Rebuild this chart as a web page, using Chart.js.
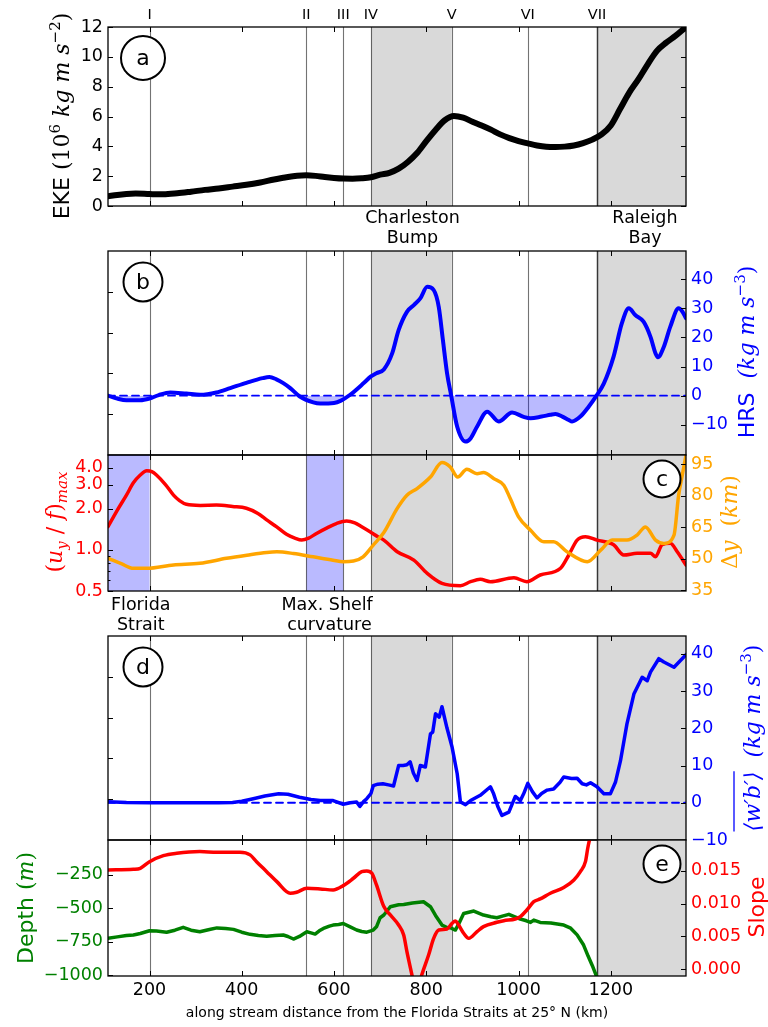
<!DOCTYPE html>
<html>
<head>
<meta charset="utf-8">
<script src="https://cdn.jsdelivr.net/npm/chart.js@4.4.1/dist/chart.umd.min.js"></script>
<style>
  html, body { margin: 0; padding: 0; background: #fff; }
  #wrap { position: relative; width: 768px; height: 1027px; }
  #wrap canvas { position: absolute; left: 0; top: 0; }
</style>
</head>
<body>
<div id="wrap">
  <canvas id="panelA" width="768" height="1027"></canvas>
  <canvas id="panelB" width="768" height="1027"></canvas>
  <canvas id="panelC" width="768" height="1027"></canvas>
  <canvas id="panelD" width="768" height="1027"></canvas>
  <canvas id="panelE" width="768" height="1027"></canvas>
</div>
<script>
// along-stream distance axis (km)
const X_MIN = 110, X_MAX = 1363;
const xTicks = [200, 400, 600, 800, 1000, 1200];

// sections I..VII and shaded regions
const sectionKm = [200, 540, 620, 680, 855, 1020, 1170];
const sectionNames = ['I', 'II', 'III', 'IV', 'V', 'VI', 'VII'];
const grayBands = [[680, 855], [1170, 1363]];
const blueBands = [[110, 200], [540, 620]];

// (a) EKE
const ekeKm = [110,130,150,170,200,230,260,290,320,350,380,410,440,470,500,520,540,560,580,600,620,640,660,680,700,720,740,760,780,800,820,840,860,880,900,920,940,960,980,1000,1020,1040,1060,1080,1100,1120,1140,1160,1180,1200,1220,1240,1260,1280,1300,1320,1340,1363];
const ekeVal = [0.65,0.74,0.8,0.83,0.8,0.78,0.85,0.96,1.08,1.18,1.3,1.42,1.58,1.78,1.95,2.03,2.06,2.02,1.94,1.88,1.84,1.83,1.86,1.93,2.1,2.22,2.5,2.95,3.55,4.35,5.1,5.75,6.03,5.92,5.65,5.4,5.12,4.8,4.55,4.35,4.2,4.06,3.97,3.95,3.98,4.06,4.22,4.45,4.8,5.4,6.5,7.6,8.5,9.5,10.4,10.95,11.4,12.0];
const ekeTicks = [0, 2, 4, 6, 8, 10, 12];

// (b) HRS
const hrsKm = [110,130,150,180,200,220,245,280,310,345,375,410,445,460,475,490,505,525,555,570,600,615,635,665,680,692,708,726,740,758,773,787,802,816,827,836,845,854,867,885,896,910,932,957,986,1011,1026,1050,1069,1080,1095,1109,1116,1134,1152,1169,1185,1206,1224,1239,1253,1271,1286,1297,1302,1315,1329,1347,1355,1363];
const hrsVal = [0,-1.0,-1.6,-1.6,-1.0,0.2,1.1,0.7,0.3,1.1,2.6,4.4,6.0,6.4,5.6,4.3,2.6,-0.2,-2.3,-2.7,-2.5,-1.7,0.3,4.4,6.6,7.7,9.0,14.5,22.5,28.8,31.1,33.4,37.4,36.3,30.5,19.1,7.7,0,-10.7,-15.8,-14.7,-10.7,-5.5,-8.9,-5.8,-7.3,-7.8,-7.2,-6.6,-6.3,-7.2,-8.4,-8.9,-7.2,-3.8,0,4.2,13.4,24.9,30.0,27.7,25.4,20.2,14.5,13.2,16.8,23.7,30.0,28.9,26.6];
const hrsTicks = [-10, 0, 10, 20, 30, 40];
const blankTicks = [1, 2, 3, 4];

// (c) (u_y/f)_max and width of the stream
const shearKm = [110,130,150,165,180,194,205,215,235,252,265,280,310,345,380,410,435,454,475,497,515,530,545,562,585,605,627,645,660,678,695,708,737,773,802,834,874,896,917,939,990,1018,1047,1091,1109,1127,1145,1170,1206,1228,1257,1286,1297,1311,1329,1344,1363];
const shearVal = [1.48,1.95,2.52,3.1,3.54,3.8,3.75,3.54,3.0,2.52,2.3,2.16,2.12,2.13,2.08,2.02,1.85,1.66,1.48,1.3,1.22,1.18,1.22,1.32,1.45,1.56,1.63,1.58,1.48,1.36,1.25,1.18,0.97,0.843,0.674,0.569,0.547,0.585,0.609,0.585,0.625,0.585,0.655,0.733,0.918,1.18,1.25,1.18,1.09,0.918,0.944,0.944,0.891,1.09,1.12,0.97,0.775];
const shearTicks = [0.5, 1, 2, 3, 4];
const shearMinor = [0.6, 0.7, 0.8, 0.9];
const widthKm = [110,140,165,194,252,309,367,411,454,476,512,555,598,620,642,663,685,708,737,758,780,809,834,852,868,888,910,924,946,968,982,1000,1026,1055,1076,1105,1149,1178,1203,1235,1257,1275,1297,1315,1337,1347,1355,1363];
const widthVal = [50.2,47.5,45.4,45.4,47.0,47.8,50.2,51.7,53.0,53.3,52.5,50.9,49.3,48.6,48.9,50.9,56.5,62.5,74.0,80.3,83.5,89.0,95.9,93.8,89.0,92.7,90.6,91.1,88.3,85.1,78.7,70.0,63.6,58.1,58.1,53.3,48.6,54.1,58.9,58.9,61.3,65.2,58.9,57.3,61.3,80.3,90,99.4];
const widthTicks = [35, 50, 65, 80, 95];

// (d) <w'b'>
const wbKm = [110,150,200,250,300,350,380,400,425,450,480,500,525,550,570,598,620,635,649,656,664,671,680,685,695,706,718,729,740,750,758,765,772,780,787,798,809,814,820,828,834,845,856,867,874,885,896,917,939,946,955,964,979,993,1004,1011,1020,1030,1040,1050,1062,1076,1090,1098,1115,1127,1138,1147,1156,1170,1185,1199,1210,1221,1235,1250,1268,1279,1286,1304,1315,1337,1363];
const wbVal = [0.3,0.1,0,0,0,0,0.1,0.4,1.1,1.8,2.4,2.3,1.5,0.9,0.6,0.6,-0.4,0,0.2,-1.0,0.3,1.1,2.5,4.6,5.0,5.1,4.8,4.5,10,10,10.2,11,8,6,10,9.6,18.5,19,23.9,23,25.8,20,14.9,7.8,0.2,-0.5,0.6,2.0,4.3,2.4,-1,-3.4,-2.5,1.7,0.6,2.4,5.2,3,1.3,2.5,3.4,3.7,5.5,6.9,6.5,6.6,5.1,4.8,5.4,4.3,2.4,2.4,5.5,11.3,21.2,29.2,33.7,32.8,35.1,38.7,37.8,36.4,39.8];
const wbTicks = [-10, 0, 10, 20, 30, 40];

// (e) depth and slope
const depthKm = [110,130,150,165,180,200,215,237,255,273,290,309,330,346,365,382,400,418,436,454,472,490,500,512,525,541,550,559,568,577,590,598,610,620,635,649,660,671,685,692,700,708,722,740,751,770,794,809,820,834,845,852,863,870,881,903,924,940,953,965,979,1004,1017,1026,1033,1047,1070,1098,1113,1127,1141,1151,1160,1168,1172];
const depthVal = [-726,-715,-705,-701,-690,-669,-672,-680,-665,-644,-665,-677,-660,-648,-652,-659,-680,-696,-705,-710,-705,-701,-712,-731,-712,-677,-685,-694,-670,-652,-635,-627,-622,-615,-640,-664,-675,-680,-664,-640,-572,-552,-490,-475,-473,-462,-453,-490,-555,-627,-645,-647,-664,-620,-540,-522,-552,-565,-572,-560,-547,-582,-595,-607,-590,-607,-612,-627,-650,-700,-776,-860,-930,-1000,-1030];
const depthTicks = [-1000, -750, -500, -250];
const slopeKm = [110,165,180,200,230,259,309,346,396,418,432,454,476,505,519,541,570,598,620,642,660,671,682,692,708,722,740,751,758,769,778,790,805,816,827,845,856,863,870,881,892,910,924,953,968,993,1004,1018,1033,1047,1069,1098,1120,1134,1145,1150,1156,1162];
const slopeVal = [0.01514,0.01524,0.01539,0.0164,0.01732,0.01768,0.01793,0.01783,0.01783,0.01743,0.0164,0.01488,0.01336,0.01159,0.01174,0.01235,0.01225,0.01209,0.01275,0.01387,0.01488,0.01499,0.01463,0.01285,0.00955,0.00828,0.00675,0.00523,0.00269,-0.0009,-0.004,-0.0009,0.00218,0.00472,0.00599,0.00614,0.00701,0.00736,0.00675,0.00549,0.00472,0.00574,0.0065,0.00716,0.00741,0.00767,0.00802,0.00904,0.0103,0.01072,0.01158,0.01245,0.01361,0.01488,0.0164,0.01845,0.02047,0.0225];
const slopeTicks = [0, 0.005, 0.01, 0.015];

const SANS = "'DejaVu Sans', sans-serif";
const MATH = "'DejaVu Serif', serif";
const BLUE = '#0000ff', RED = '#ff0000', ORANGE = '#ffa500', GREEN = '#008000';
const LEFT_W = 108, RIGHT_W = 82;
const TICK_FONT = { family: SANS, size: 17.5 };

function pts(xs, ys) { return xs.map((x, i) => ({ x: x, y: ys[i] })); }
function minus(s) { return String(s).replace('-', '\u2212'); }

// simple text helpers
function text(ctx, t, x, y, font, color, align) {
  ctx.save();
  ctx.font = font; ctx.fillStyle = color;
  ctx.textAlign = align || 'center'; ctx.textBaseline = 'alphabetic';
  ctx.fillText(t, x, y);
  ctx.restore();
}
// rotated axis label made of several font runs (sans word + math part)
function richText(ctx, cx, cy, parts, color) {
  ctx.save();
  ctx.translate(cx, cy);
  ctx.rotate(-Math.PI / 2);
  ctx.fillStyle = color; ctx.strokeStyle = color;
  ctx.textAlign = 'left'; ctx.textBaseline = 'alphabetic';
  let total = 0;
  const widths = parts.map(p => { ctx.font = p.f; const w = ctx.measureText(p.t).width; total += w; return w; });
  let x = -total / 2;
  parts.forEach((p, i) => {
    ctx.font = p.f;
    ctx.fillText(p.t, x, 8 + (p.dy || 0));
    if (p.bar) {
      ctx.lineWidth = 1.3;
      ctx.beginPath(); ctx.moveTo(x, -18); ctx.lineTo(x + widths[i], -18); ctx.stroke();
    }
    x += widths[i];
  });
  ctx.restore();
}

const LBL = `22px ${SANS}`, M = `22px ${MATH}`, MI = `italic 22px ${MATH}`, MS = `15px ${MATH}`, MSI = `italic 15px ${MATH}`;

// per-panel decoration: which scale carries the inward ticks, circled letter
const panelCfg = {
  panelA: { left: ['yL', ekeTicks, []], right: ['yL', ekeTicks, []], circle: ['a', 'left', 22] },
  panelB: { left: ['yL', blankTicks, []], right: ['yR', hrsTicks, []], circle: ['b', 'left', 19.5] },
  panelC: { left: ['yL', shearTicks, shearMinor], right: ['yR', widthTicks, []], circle: ['c', 'right', 18.5], blue: true },
  panelD: { left: ['yL', blankTicks, []], right: ['yR', wbTicks, []], circle: ['d', 'left', 19.5] },
  panelE: { left: ['yL', depthTicks, []], right: ['yR', slopeTicks, []], circle: ['e', 'right', 18.5] }
};

const panelExtras = {
  panelA(chart) {
    const ctx = chart.ctx, x = chart.scales.x;
    sectionKm.forEach((v, i) => text(ctx, sectionNames[i], x.getPixelForValue(v), 19, `14.5px ${SANS}`, '#000'));
    text(ctx, 'Charleston', x.getPixelForValue(770), 223, `17.5px ${SANS}`, '#000');
    text(ctx, 'Bump', x.getPixelForValue(770), 243, `17.5px ${SANS}`, '#000');
    text(ctx, 'Raleigh', x.getPixelForValue(1274), 223, `17.5px ${SANS}`, '#000');
    text(ctx, 'Bay', x.getPixelForValue(1274), 243, `17.5px ${SANS}`, '#000');
    richText(ctx, 61, 116, [
      { t: 'EKE', f: LBL }, { t: ' (10', f: M }, { t: '6', f: MS, dy: -9 },
      { t: ' kg m s', f: MI }, { t: '\u22122', f: MS, dy: -9 }, { t: ')', f: M }
    ], '#000');
  },
  panelB(chart) {
    richText(chart.ctx, 746, 352, [
      { t: 'HRS  ', f: LBL }, { t: '(kg m s', f: MI }, { t: '\u22123', f: MS, dy: -9 }, { t: ')', f: M }
    ], BLUE);
  },
  panelC(chart) {
    const ctx = chart.ctx, x = chart.scales.x;
    text(ctx, 'Florida', x.getPixelForValue(181), 610, `17.5px ${SANS}`, '#000');
    text(ctx, 'Strait', x.getPixelForValue(181), 630, `17.5px ${SANS}`, '#000');
    text(ctx, 'Max. Shelf', x.getPixelForValue(585), 610, `17.5px ${SANS}`, '#000');
    text(ctx, 'curvature', x.getPixelForValue(590), 630, `17.5px ${SANS}`, '#000');
    richText(ctx, 54, 522, [
      { t: '(', f: M }, { t: 'u', f: MI }, { t: 'y', f: MSI, dy: 5 }, { t: ' / ', f: M },
      { t: 'f', f: MI }, { t: ')', f: M }, { t: 'max', f: MSI, dy: 5 }
    ], RED);
    richText(ctx, 729, 522, [
      { t: '\u0394', f: M }, { t: 'y', f: MI }, { t: '  (', f: M }, { t: 'km', f: MI }, { t: ')', f: M }
    ], ORANGE);
  },
  panelD(chart) {
    richText(chart.ctx, 752, 738, [
      { t: '\u27e8w\u2032b\u2032\u27e9', f: MI, bar: true }, { t: '  (kg m s', f: MI },
      { t: '\u22123', f: MS, dy: -9 }, { t: ')', f: M }
    ], BLUE);
  },
  panelE(chart) {
    richText(chart.ctx, 25, 908, [{ t: 'Depth', f: LBL }, { t: ' (', f: M }, { t: 'm', f: MI }, { t: ')', f: M }], GREEN);
    richText(chart.ctx, 756, 907, [{ t: 'Slope', f: LBL }], RED);
  }
};

const panelDecor = {
  id: 'panelDecor',
  beforeDatasetsDraw(chart) {
    const cfg = panelCfg[chart.canvas.id];
    const { ctx, chartArea: a } = chart;
    const px = v => chart.scales.x.getPixelForValue(v);
    ctx.save();
    ctx.beginPath(); ctx.rect(a.left, a.top, a.right - a.left, a.bottom - a.top); ctx.clip();
    ctx.fillStyle = '#d9d9d9';
    grayBands.forEach(b => ctx.fillRect(px(b[0]), a.top, px(b[1]) - px(b[0]), a.bottom - a.top));
    if (cfg.blue) {
      ctx.fillStyle = 'rgba(0,0,255,0.27)';
      blueBands.forEach(b => ctx.fillRect(px(b[0]), a.top, px(b[1]) - px(b[0]), a.bottom - a.top));
    }
    sectionKm.forEach((v, i) => {
      const p = Math.round(px(v)) + 0.5;
      ctx.strokeStyle = i === 6 ? 'rgba(0,0,0,0.75)' : 'rgba(0,0,0,0.55)';
      ctx.lineWidth = i === 6 ? 1.5 : 1.1;
      ctx.beginPath(); ctx.moveTo(p, a.top); ctx.lineTo(p, a.bottom); ctx.stroke();
    });
    ctx.restore();
  },
  afterDatasetsDraw(chart) {
    const cfg = panelCfg[chart.canvas.id];
    const { ctx, chartArea: a } = chart;
    const px = v => chart.scales.x.getPixelForValue(v);
    ctx.save();
    ctx.strokeStyle = '#000'; ctx.lineWidth = 1;
    const seg = (x1, y1, x2, y2) => { ctx.beginPath(); ctx.moveTo(x1, y1); ctx.lineTo(x2, y2); ctx.stroke(); };
    xTicks.forEach(v => {
      const p = Math.round(px(v)) + 0.5;
      seg(p, a.bottom, p, a.bottom - 5); seg(p, a.top, p, a.top + 5);
    });
    ['left', 'right'].forEach(side => {
      const spec = cfg[side], s = chart.scales[spec[0]];
      const x0 = side === 'left' ? a.left : a.right, dir = side === 'left' ? 1 : -1;
      spec[1].forEach(v => { const y = Math.round(s.getPixelForValue(v)) + 0.5; seg(x0, y, x0 + dir * 5, y); });
      spec[2].forEach(v => { const y = Math.round(s.getPixelForValue(v)) + 0.5; seg(x0, y, x0 + dir * 2.5, y); });
    });
    ctx.lineWidth = 1.3;
    ctx.strokeRect(a.left, a.top, a.right - a.left, a.bottom - a.top);
    // circled panel letter
    const [letter, side, r] = cfg.circle;
    const cx = side === 'left' ? a.left + 35 : a.right - 24;
    const cy = side === 'left' ? a.top + 31 : a.top + 24;
    ctx.beginPath(); ctx.arc(cx, cy, r, 0, Math.PI * 2);
    ctx.fillStyle = '#fff'; ctx.fill();
    ctx.lineWidth = 2; ctx.stroke();
    ctx.fillStyle = '#000'; ctx.font = `22px ${SANS}`;
    ctx.textAlign = 'center'; ctx.textBaseline = 'middle';
    ctx.fillText(letter, cx, cy + 1);
    ctx.restore();
  },
  afterDraw(chart) {
    const fn = panelExtras[chart.canvas.id];
    if (fn) fn(chart);
  }
};

function yAxis(pos, min, max, ticks, color, fmt, type) {
  return {
    type: type || 'linear', position: pos, min: min, max: max,
    afterBuildTicks: s => { s.ticks = ticks.map(v => ({ value: v })); },
    afterFit: s => { s.width = pos === 'left' ? LEFT_W : RIGHT_W; },
    grid: { display: false, drawTicks: false },
    border: { display: false },
    ticks: { color: color, font: TICK_FONT, padding: 5, autoSkip: false, callback: fmt }
  };
}

function xAxis(show) {
  return {
    type: 'linear', min: X_MIN, max: X_MAX, display: show,
    afterBuildTicks: s => { s.ticks = xTicks.map(v => ({ value: v })); },
    afterFit: s => { if (show) s.height = 51; },
    grid: { display: false, drawTicks: false },
    border: { display: false },
    ticks: { color: '#000', font: TICK_FONT, padding: 4, maxRotation: 0, autoSkip: false, callback: v => String(v) },
    title: {
      display: show, color: '#000',
      text: 'along stream distance from the Florida Straits at 25\u00b0 N (km)',
      font: { family: SANS, size: 14 }, padding: { top: 0, bottom: 5 }
    }
  };
}

function makePanel(id, top, bottom, datasets, scales, showX) {
  return new Chart(document.getElementById(id), {
    type: 'line',
    data: { datasets: datasets },
    options: {
      responsive: false, animation: false, events: [],
      layout: { padding: { top: top, bottom: showX ? 0 : 1027 - bottom, left: 0, right: scales.yR ? 0 : RIGHT_W } },
      plugins: { legend: { display: false }, tooltip: { enabled: false } },
      elements: { point: { radius: 0 }, line: { borderCapStyle: 'round', borderJoinStyle: 'round' } },
      scales: Object.assign({ x: xAxis(showX) }, scales)
    },
    plugins: [panelDecor]
  });
}

const hide = () => '';
const zeroLine = (axis) => ({
  data: pts([X_MIN, X_MAX], [0, 0]), yAxisID: axis, borderColor: BLUE,
  borderWidth: 1.8, borderDash: [7, 5], fill: false
});

// (a)
makePanel('panelA', 27, 206, [
  { data: pts(ekeKm, ekeVal), yAxisID: 'yL', borderColor: '#000', borderWidth: 6, cubicInterpolationMode: 'monotone', fill: false }
], {
  yL: yAxis('left', 0, 12, ekeTicks, '#000', v => String(v))
}, false);

// (b)
makePanel('panelB', 251, 455, [
  { data: pts(hrsKm, hrsVal), yAxisID: 'yR', borderColor: BLUE, borderWidth: 4, cubicInterpolationMode: 'monotone',
    fill: { target: { value: 0 }, above: 'rgba(0,0,0,0)', below: 'rgba(0,0,255,0.27)' } },
  zeroLine('yR')
], {
  yL: yAxis('left', 0, 5, blankTicks, '#000', hide),
  yR: yAxis('right', -20.4, 49.7, hrsTicks, BLUE, v => minus(v))
}, false);

// (c)
makePanel('panelC', 455, 591, [
  { data: pts(widthKm, widthVal), yAxisID: 'yR', borderColor: ORANGE, borderWidth: 3.5, cubicInterpolationMode: 'monotone', fill: false },
  { data: pts(shearKm, shearVal), yAxisID: 'yL', borderColor: RED, borderWidth: 3.5, cubicInterpolationMode: 'monotone', fill: false }
], {
  yL: yAxis('left', 0.5, 4.96, shearTicks.concat(shearMinor), RED,
    v => shearTicks.indexOf(v) >= 0 ? v.toFixed(1) : '', 'logarithmic'),
  yR: yAxis('right', 34.6, 99.5, widthTicks, ORANGE, v => String(v))
}, false);

// (d)
makePanel('panelD', 636, 840, [
  { data: pts(wbKm, wbVal), yAxisID: 'yR', borderColor: BLUE, borderWidth: 3.5, tension: 0, fill: false },
  zeroLine('yR')
], {
  yL: yAxis('left', 0, 5, blankTicks, '#000', hide),
  yR: yAxis('right', -10, 44.8, wbTicks, BLUE, v => minus(v))
}, false);

// (e)
makePanel('panelE', 840, 976, [
  { data: pts(slopeKm, slopeVal), yAxisID: 'yR', borderColor: RED, borderWidth: 3.5, cubicInterpolationMode: 'monotone', fill: false },
  { data: pts(depthKm, depthVal), yAxisID: 'yL', borderColor: GREEN, borderWidth: 3.5, tension: 0, fill: false }
], {
  yL: yAxis('left', -1007, 8, depthTicks, GREEN, v => minus(v)),
  yR: yAxis('right', -0.00102, 0.0197, slopeTicks, RED, v => v.toFixed(3))
}, true);
</script>
</body>
</html>
